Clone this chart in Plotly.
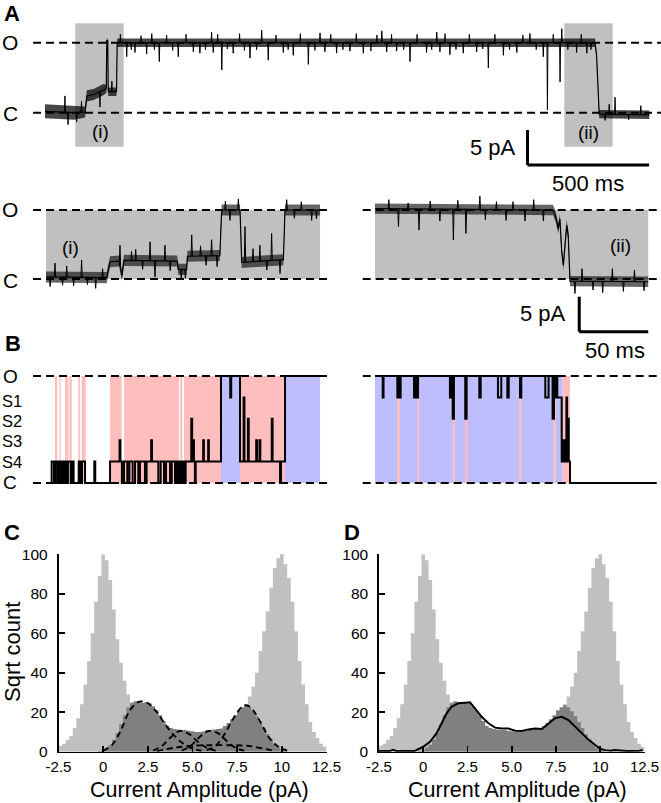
import numpy as np
import plotly.graph_objects as go

W, H = 661, 803
FONT = "Liberation Sans, Arial, Helvetica, sans-serif"

# ======================= DATA =======================
# Panel A (top): full record, time (ms) / current (pA); C = 0, O = 10
TOP_LEVEL_T = [0, 120, 165, 172, 200, 240, 252, 254, 258, 260, 294, 297, 2262, 2268, 2279, 2485]
TOP_LEVEL_Y = [0.2, 0.0, 0.1, 2.4, 2.6, 3.3, 3.4, 10.3, 10.3, 3.0, 3.0, 10.0, 10.0, 8.2, -0.2, -0.3]
TOP_NOISE = [1.0, 1.0, 0.8, 0.8, 0.8, 0.8, 0.6, 0.3, 0.3, 0.6, 0.6, 0.6, 0.6, 0.3, 0.6, 0.6]
TOP_SPIKE_T = [82, 95, 130, 150, 226, 275, 336, 370, 418, 439, 470, 548, 610, 637, 685, 692, 727, 774,
               843, 891, 918, 980, 1021, 1083, 1131, 1151, 1199, 1254, 1309, 1385, 1405, 1446, 1501,
               1569, 1611, 1624, 1665, 1720, 1775, 1823, 1885, 1940, 1994, 2049, 2066, 2118, 2125,
               2186, 2228, 2303, 2320, 2344, 2400, 2450]
TOP_SPIKE_Y = [2.4, -1.7, -1.3, 1.6, 0.8, 4.5, 8.0, 8.6, 8.4, 11.3, 7.3, 8.0, 8.7, 8.5, 11.5, 8.6, 6.1, 8.5,
               7.8, 11.8, 7.5, 8.6, 8.2, 6.9, 11.4, 8.7, 8.5, 8.8, 8.5, 11.7, 8.7, 8.8, 7.3,
               8.6, 11.5, 8.7, 8.3, 8.5, 8.7, 6.4, 8.2, 8.6, 11.3, 8.0, 0.4, 4.4, 12.0,
               8.6, 8.5, -1.1, 1.2, 2.2, -1.0, 1.0]
# smaller flickers on the open level
TOP_FLICKER_T = [310, 355, 395, 450, 500, 525, 580, 660, 710, 750, 800, 820, 870, 950, 1000, 1050, 1110,
                 1175, 1225, 1280, 1340, 1365, 1425, 1475, 1530, 1590, 1645, 1690, 1745, 1800, 1850, 1910,
                 1965, 2020, 2090, 2150, 2205, 2245]
TOP_FLICKER_Y = [11.2, 9.0, 11.0, 9.0, 11.1, 8.9, 11.2, 9.0, 11.2, 9.1, 11.3, 8.9, 9.0, 11.1, 9.0, 11.3, 8.9,
                 11.2, 9.0, 11.3, 8.8, 11.1, 11.2, 9.0, 11.2, 9.0, 11.3, 9.0, 11.2, 9.1, 11.2, 9.0,
                 11.1, 9.0, 11.2, 9.0, 11.2, 9.0]
BOX_I = (124.6, 323.6)
BOX_II = (2135.4, 2334.4)

# Panel A (bottom left, segment i), time (ms) / current (pA)
A2_LEVEL_T = [0, 44, 46.4, 53, 55, 56.5, 95, 96, 101.9, 102.5, 126, 127.3, 140.6, 141.8, 172, 173.2, 198.6]
A2_LEVEL_Y = [0.3, 0.2, 2.5, 2.6, 0.5, 2.7, 2.6, 1.4, 1.4, 3.3, 3.4, 10.0, 10.0, 2.4, 2.8, 10.0, 10.0]
A2_SPIKE_T = [3, 6.5, 12, 15, 20, 25.8, 30, 36, 41, 53.6, 62, 65, 70, 75.4, 79, 86.2, 90, 98, 101,
              105.6, 112, 116, 120, 124, 130, 133.3, 139.4, 144.2, 150, 155, 160, 163.5, 169.6,
              174.4, 180, 185, 192.5, 196]
A2_SPIKE_Y = [-1.1, 2.3, -0.9, 1.9, -1.0, 2.75, -0.8, -1.35, 1.5, 4.9, 4.0, 4.3, 1.4, 5.4, 0.3, 4.9, 1.2, 0.0, 0.1,
              6.4, 4.8, 2.0, 5.7, 1.8, 11.3, 8.5, 11.6, 7.6, 4.4, 4.9, 1.3, 6.6, 0.8,
              11.5, 8.8, 11.2, 8.5, 8.7]

# Panel A (bottom right, segment ii)
A3_LEVEL_T = [0, 129, 131, 132.8, 134, 135.3, 136.5, 137.7, 138.9, 140, 141.3, 198]
A3_LEVEL_Y = [10.2, 10.0, 9.0, 7.3, 8.7, 4.0, 2.0, 4.9, 7.8, 6.4, -0.3, -0.4]
A3_SPIKE_T = [10, 17, 24, 31.9, 40, 47, 56.8, 60, 65.9, 76, 80, 88, 95, 100, 108.7, 115, 122,
              144.9, 150, 158, 165, 172, 180, 188, 195]
A3_SPIKE_Y = [11.5, 7.6, 11.0, 7.1, 11.3, 8.4, 5.65, 11.4, 6.6, 12.0, 8.6, 11.2, 8.5, 11.2, 8.4, 11.5, 8.4,
              -2.1, 1.5, -1.6, -2.0, 1.5, -1.8, 1.3, -1.7]

# Panel B: idealised records, levels C=0, S4=1, S3=2, S2=3, S1=4, O=5
B1_T = [0, 4.1, 5.8, 7.0, 8.5, 9.4, 10.6, 11.6, 13.0, 14.2, 15.0, 15.9, 17.9, 18.6, 20.0, 23.7, 25.1, 26.1, 28.3, 35.0, 35.7,
        46.4, 53.3, 53.9, 55.0, 56.5, 58.9, 60.4, 62.8, 64.5, 66.9, 68.1, 71.7, 72.9, 76.2, 76.8, 81.4, 83.1, 85.5, 87.0,
        89.9, 91.1, 93.5, 94.7, 95.9, 96.6, 97.3, 98.1, 98.8, 99.5, 100.2, 101.2, 105.3, 105.9, 106.6, 107.2, 107.9, 108.5,
        113.9, 114.4, 117.5, 118.0, 126.8, 133.5, 134.2, 140.6, 143.2, 143.8, 146.3, 146.9, 152.3, 152.9, 154.7, 155.3,
        163.6, 164.2, 169.6, 170.3, 173.2, 198.6]
B1_L = [0, 1, 0, 1, 0, 1, 0, 1, 0, 1, 0, 1, 0, 1, 0, 1, 0, 1, 0, 1, 0,
        1, 2, 1, 0, 1, 0, 1, 0, 1, 0, 1, 0, 1, 2, 1, 0, 1, 0, 1,
        0, 1, 0, 1, 0, 1, 0, 1, 0, 1, 0, 1, 3, 1, 2, 1, 0, 1,
        2, 1, 2, 1, 5, 4, 5, 1, 4, 1, 3, 1, 2, 1, 2, 1,
        3, 1, 0, 1, 5, 5]
B1_PINK = [(6.5, 8.2), (9.7, 10.6), (13.8, 16.2), (16.9, 18.6), (23.4, 24.6), (25.8, 28.8),
           (46.4, 54.8), (56.6, 96.4), (97.3, 98.8), (100.0, 126.8), (140.6, 173.2)]
B1_BLUE = [(126.8, 140.6), (173.2, 198.6)]

B2_T = [0, 5.6, 6.2, 16.2, 17.2, 17.6, 18.6, 28.3, 29.2, 30.2, 31.2,
        54.3, 55.3, 56.3, 57.2, 65.4, 66.4, 75.6, 76.6, 89.1, 91.5, 95.9, 96.9, 105.1, 106.0, 123.4, 125.8,
        128.7, 129.7, 130.4, 131.6, 132.1,
        135.3, 135.8, 136.3, 136.8, 137.3, 137.8, 138.3,
        138.7, 139.2, 139.9, 140.4, 141.3, 199.3]
B2_L = [5, 4, 5, 4, 5, 4, 5, 4, 5, 4, 5,
        4, 5, 3, 5, 3, 5, 4, 5, 4, 5, 4, 5, 4, 5, 4, 5,
        3, 5, 4, 5, 4,
        1, 2, 1, 2, 1, 2, 1,
        4, 1, 3, 1, 0, 0]
B2_BLUE = [(0, 136.0)]
B2_PINK = [(16.2, 18.1), (30.7, 32.1), (56.3, 58.0), (65.4, 67.1), (104.6, 106.3), (129.2, 131.1), (136.0, 141.3)]
B_LABELS = ["S1", "S2", "S3", "S4"]

# Panels C / D: amplitude histograms (sqrt count), 0.2 pA bins from -2.5 to 12.5
BIN_CENTERS = [round(-2.4 + 0.2 * i, 1) for i in range(75)]
HIST_ALL = [3, 4, 6, 8, 12, 17, 24, 34, 46, 60, 76, 89, 100, 97, 87, 72, 57, 45, 36, 29,
            25, 21, 17, 14, 11, 9, 7, 5, 4, 3, 2, 2, 1, 1, 1, 1, 1, 1, 1, 1,
            1, 2, 2, 3, 4, 6, 8, 10, 12, 14, 17, 20, 24, 28, 33, 40, 51, 61, 71, 83,
            93, 98, 101, 95, 88, 76, 61, 46, 34, 24, 15, 10, 7, 4, 2.5]
HIST_SUB = [0, 0, 0, 0, 0, 0, 0, 0, 0, 0, 0,
            0.3, 1, 2, 3.5, 6, 9.5, 14, 18.5, 22.5, 24.5, 25.5, 25, 24.8, 25, 24.5, 23, 21, 18.5, 15.5,
            13, 12, 11.5, 11.2, 11, 11, 10.6, 10.3, 10, 10, 10.2, 10.8, 11, 11.3, 11.5, 11.8, 13, 14.5,
            16.5, 18.5, 21, 22.5, 23.5, 22.5, 20.5, 18, 15, 12, 9, 6.5, 4, 2, 1, 0.5,
            0, 0, 0, 0, 0, 0, 0, 0, 0, 0, 0]
# Panel C: fitted components (dashed)
COMP_X = [
    [0.0, 0.5, 1.0, 1.5, 2.0, 2.5, 3.0, 3.5, 4.0, 4.5, 5.0, 5.5],
    [2.8, 3.3, 3.8, 4.3, 4.8, 5.3, 5.8, 6.3],
    [4.4, 4.9, 5.4, 5.9, 6.4, 6.9, 7.4, 7.9],
    [5.8, 6.3, 6.8, 7.3, 7.8, 8.0, 8.3, 8.8, 9.3, 9.8, 10.3],
    [3.0, 4.0, 5.0, 6.0, 7.0, 8.0, 9.0, 9.6],
]
COMP_Y = [
    [0.5, 3.5, 11, 21, 25.3, 24.6, 20, 13.5, 8, 4, 1.5, 0.5],
    [0.5, 3, 7.5, 10.5, 9, 5, 2, 0.5],
    [0.5, 3, 7.5, 10.5, 9.5, 5.5, 2, 0.5],
    [0.8, 3, 9, 17, 23, 23.5, 22, 15, 7, 2.5, 0.5],
    [0.3, 2.0, 3.0, 3.3, 3.3, 3.0, 1.5, 0.3],
]
# Panel D: model curve (solid)
MODEL_X = [-2.5, -1.9, -1.7, -1.5, -0.5, 0.0, 0.38, 0.75, 1.04, 1.32, 1.6, 1.98, 2.36, 2.64, 2.92, 3.3,
           3.68, 4.06, 4.43, 4.8, 5.19, 5.57, 5.94, 6.32, 6.7, 7.08, 7.45, 7.83, 8.2, 8.58, 8.96, 9.34,
           9.72, 10.0, 10.3, 10.6, 10.8, 11.5, 12.2, 12.4]
MODEL_Y = [0.3, 0.3, 0.9, 0.3, 0.3, 2.5, 5, 9.3, 14.4, 19.4, 22.8, 24.5, 24.8, 25, 22, 17.7,
           14.4, 12.2, 11.8, 11.8, 10.6, 10.5, 11.3, 11.7, 11.5, 14.4, 17, 17.7, 16, 12.7, 9.3, 6,
           3.4, 1.4, 0.8, 0.5, 0.9, 0.4, 0.5, 0.9]

X_TICKS = [-2.5, 0, 2.5, 5, 7.5, 10, 12.5]
X_TICK_TEXT = ["-2.5", "0", "2.5", "5.0", "7.5", "10", "12.5"]
Y_TICKS = [0, 20, 40, 60, 80, 100]

# ======================= STYLE =======================
BOX_GREY = "#c0c0c0"
PINK = "#ffbebe"
BLUE = "#bebeff"
HIST_LIGHT = "#c0c0c0"
HIST_DARK = "#808080"
DASH = "8px,5px"
BIN_W = 0.2

fig = go.Figure()
shapes = []
ann = []


def dx(a, b):
    return [a / W, b / W]


def dy(top, bottom):
    return [1 - bottom / H, 1 - top / H]


def txt(s, px, py, size, xanchor="center", yanchor="middle", bold=False, angle=0):
    ann.append(dict(text=f"<b>{s}</b>" if bold else s, x=px / W, y=1 - py / H,
                    xref="paper", yref="paper", showarrow=False, xanchor=xanchor,
                    yanchor=yanchor, textangle=angle, borderpad=0,
                    font=dict(size=size, color="black", family=FONT)))


def rect(xr, yr, x0, x1, y0, y1, color):
    shapes.append(dict(type="rect", xref=xr, yref=yr, x0=x0, x1=x1, y0=y0, y1=y1,
                       fillcolor=color, line=dict(width=0), layer="below"))


def hline(xr, yr, x0, x1, y, dash=DASH, width=2):
    shapes.append(dict(type="line", xref=xr, yref=yr, x0=x0, x1=x1, y0=y, y1=y,
                       line=dict(color="black", width=width, dash=dash), layer="below"))


def seg(xr, yr, x0, x1, y0, y1, width=3):
    shapes.append(dict(type="line", xref=xr, yref=yr, x0=x0, x1=x1, y0=y0, y1=y1,
                       line=dict(color="black", width=width), layer="above"))


def add_spikes(xa, ya, LT, LY, ST, SY, d, width=1):
    xs, ys = [], []
    for t, v in zip(ST, SY):
        base = float(np.interp(t, LT, LY))
        xs += [t - d, t, t + d, None]
        ys += [base, v, base, None]
    fig.add_trace(go.Scatter(x=xs, y=ys, mode="lines", line=dict(color="black", width=width),
                             xaxis=xa, yaxis=ya, hoverinfo="skip", showlegend=False))


def add_record(xa, ya, LT, LY, HW, ST, SY, d, alpha=0.6):
    if not isinstance(HW, (list, tuple)):
        HW = [HW] * len(LT)
    up = [y + h for y, h in zip(LY, HW)]
    lo = [y - h for y, h in zip(LY, HW)]
    fig.add_trace(go.Scatter(x=list(LT) + list(LT)[::-1], y=up + lo[::-1], fill="toself",
                             fillcolor=f"rgba(0,0,0,{alpha})", line=dict(width=0), mode="lines",
                             xaxis=xa, yaxis=ya, hoverinfo="skip", showlegend=False))
    fig.add_trace(go.Scatter(x=LT, y=LY, mode="lines", line=dict(color="black", width=1.2),
                             xaxis=xa, yaxis=ya, hoverinfo="skip", showlegend=False))
    add_spikes(xa, ya, LT, LY, ST, SY, d)


def add_hist(xa, ya, centers, values, color):
    xs = [c - BIN_W / 2 for c in centers] + [centers[-1] + BIN_W / 2]
    ys = list(values) + [values[-1]]
    fig.add_trace(go.Scatter(x=xs, y=ys, mode="lines", line=dict(width=0, shape="hv"),
                             fill="tozeroy", fillcolor=color, xaxis=xa, yaxis=ya,
                             hoverinfo="skip", showlegend=False))


# ---------------- Panel A top ----------------
rect("x", "y", BOX_I[0], BOX_I[1], -4.86, 12.77, BOX_GREY)
rect("x", "y", BOX_II[0], BOX_II[1], -4.86, 12.77, BOX_GREY)
hline("x", "y", -49, 2533, 10)
hline("x", "y", -49, 2533, 0)
add_record("x", "y", TOP_LEVEL_T, TOP_LEVEL_Y, TOP_NOISE, TOP_SPIKE_T, TOP_SPIKE_Y, 2.0, alpha=0.72)
add_spikes("x", "y", TOP_LEVEL_T, TOP_LEVEL_Y, TOP_FLICKER_T, TOP_FLICKER_Y, 2.0, width=0.9)
seg("x", "y", 1984, 1984, -2.47, -7.47)
seg("x", "y", 1984, 2484, -7.47, -7.47)

# ---------------- Panel A bottom ----------------
rect("x2", "y2", 0, 198.6, 0, 10, BOX_GREY)
hline("x2", "y2", -9.4, 207, 10)
hline("x2", "y2", -9.4, 207, 0)
add_record("x2", "y2", A2_LEVEL_T, A2_LEVEL_Y, 0.8, A2_SPIKE_T, A2_SPIKE_Y, 0.5)

rect("x3", "y3", 0, 198, 0, 10, BOX_GREY)
hline("x3", "y3", -8.9, 205.8, 10)
hline("x3", "y3", -8.9, 205.8, 0)
add_record("x3", "y3", A3_LEVEL_T, A3_LEVEL_Y, 0.75, A3_SPIKE_T, A3_SPIKE_Y, 0.5)
seg("x3", "y3", 148, 148, -2.57, -7.64)
seg("x3", "y3", 148, 198, -7.64, -7.64)

# ---------------- Panel B ----------------
for a, b in B1_PINK:
    rect("x4", "y4", a, b, 0, 5, PINK)
for a, b in B1_BLUE:
    rect("x4", "y4", a, b, 0, 5, BLUE)
for a, b in B2_BLUE:
    rect("x5", "y5", a, b, 0, 5, BLUE)
for a, b in B2_PINK:
    rect("x5", "y5", a, b, 0, 5, PINK)
hline("x4", "y4", -9.4, 207, 5)
hline("x4", "y4", -9.4, 207, 0)
hline("x5", "y5", -8.9, 205.8, 5)
hline("x5", "y5", -8.9, 205.8, 0)
fig.add_trace(go.Scatter(x=B1_T, y=B1_L, mode="lines", line=dict(color="black", width=2, shape="hv"),
                         xaxis="x4", yaxis="y4", showlegend=False))
fig.add_trace(go.Scatter(x=B2_T, y=B2_L, mode="lines", line=dict(color="black", width=2, shape="hv"),
                         xaxis="x5", yaxis="y5", showlegend=False))

# ---------------- Panels C & D ----------------
for xa, ya in (("x6", "y6"), ("x7", "y7")):
    add_hist(xa, ya, BIN_CENTERS, HIST_ALL, HIST_LIGHT)
    add_hist(xa, ya, BIN_CENTERS, HIST_SUB, HIST_DARK)
for cx, cy in zip(COMP_X, COMP_Y):
    fig.add_trace(go.Scatter(x=cx, y=cy, mode="lines",
                             line=dict(color="black", width=1.9, dash="6px,4px", shape="spline"),
                             xaxis="x6", yaxis="y6", showlegend=False))
fig.add_trace(go.Scatter(x=MODEL_X, y=MODEL_Y, mode="lines", line=dict(color="black", width=2),
                         xaxis="x7", yaxis="y7", showlegend=False))

# ---------------- Text ----------------
txt("A", 3, 14, 22, xanchor="left", bold=True)
txt("O", 10, 43, 21)
txt("C", 10, 113, 21)
txt("(i)", 100, 131, 19)
txt("(ii)", 588.5, 132, 19)
txt("5 pA", 517, 147, 22, xanchor="right")
txt("500 ms", 588, 183, 22)
txt("O", 10, 210, 21)
txt("C", 10, 280, 21)
txt("(i)", 70, 247, 19)
txt("(ii)", 620, 245, 19)
txt("5 pA", 567, 313, 22, xanchor="right")
txt("50 ms", 615, 350, 22)
txt("B", 4, 344, 22, xanchor="left", bold=True)
txt("O", 10, 376, 19)
for lvl, py in zip(B_LABELS, [401, 421, 441, 462]):
    txt(lvl, 1, py, 16.5, xanchor="left")
txt("C", 10, 483, 19)
txt("C", 3, 532, 22, xanchor="left", bold=True)
txt("D", 343, 532, 22, xanchor="left", bold=True)
txt("Sqrt count", 12, 652, 22, angle=-90)
txt("Current Amplitude (pA)", 199, 803, 21.5, yanchor="bottom")
txt("Current Amplitude (pA)", 517, 803, 21.5, yanchor="bottom")

hidden = dict(visible=False, showgrid=False, zeroline=False, fixedrange=True)


def hist_x(dom, anchor):
    return dict(domain=dom, range=[-2.5, 12.5], anchor=anchor, showline=True, linewidth=1.7,
                linecolor="black", ticks="inside", ticklen=6, tickwidth=1.6, tickcolor="black",
                tickvals=X_TICKS, ticktext=X_TICK_TEXT, showgrid=False, zeroline=False,
                tickfont=dict(size=15, color="black", family=FONT), ticklabelstandoff=1,
                fixedrange=True)


def hist_y(dom, anchor):
    return dict(domain=dom, range=[0, 100], anchor=anchor, showline=True, linewidth=1.7,
                linecolor="black", ticks="inside", ticklen=6, tickwidth=1.6, tickcolor="black",
                tickvals=Y_TICKS, showgrid=False, zeroline=False,
                tickfont=dict(size=15.5, color="black", family=FONT), ticklabelstandoff=6,
                fixedrange=True)


fig.update_layout(
    width=W, height=H, margin=dict(l=0, r=0, t=0, b=0, pad=0, autoexpand=False),
    paper_bgcolor="white", plot_bgcolor="rgba(0,0,0,0)",
    showlegend=False,
    font=dict(family=FONT, color="black"),
    xaxis=dict(domain=[0, 1], range=[-185.0, 2533.0], anchor="y", **hidden),
    yaxis=dict(domain=dy(0, 175), range=[-8.9, 16.1], anchor="x", **hidden),
    xaxis2=dict(domain=dx(0, 340), range=[-33.33, 213.04], anchor="y2", **hidden),
    yaxis2=dict(domain=dy(190, 300), range=[-3.04, 12.90], anchor="x2", **hidden),
    xaxis3=dict(domain=dx(340, 661), range=[-25.36, 207.25], anchor="y3", **hidden),
    yaxis3=dict(domain=dy(190, 345), range=[-9.57, 12.90], anchor="x3", **hidden),
    xaxis4=dict(domain=dx(0, 340), range=[-33.33, 213.04], anchor="y4", **hidden),
    yaxis4=dict(domain=dy(365, 495), range=[-0.561, 5.514], anchor="x4", **hidden),
    xaxis5=dict(domain=dx(340, 661), range=[-25.36, 207.25], anchor="y5", **hidden),
    yaxis5=dict(domain=dy(365, 495), range=[-0.561, 5.514], anchor="x5", **hidden),
    xaxis6=hist_x(dx(58.5, 326.5), "y6"),
    yaxis6=hist_y(dy(554.3, 751.7), "x6"),
    xaxis7=hist_x(dx(379, 644.5), "y7"),
    yaxis7=hist_y(dy(554.3, 751.7), "x7"),
    shapes=shapes, annotations=ann,
)

fig.write_html("out.html",
               config={"displayModeBar": False, "staticPlot": True},
               post_script="document.body.style.margin='0';document.body.style.padding='0';"
                           "document.body.style.overflow='hidden';")
